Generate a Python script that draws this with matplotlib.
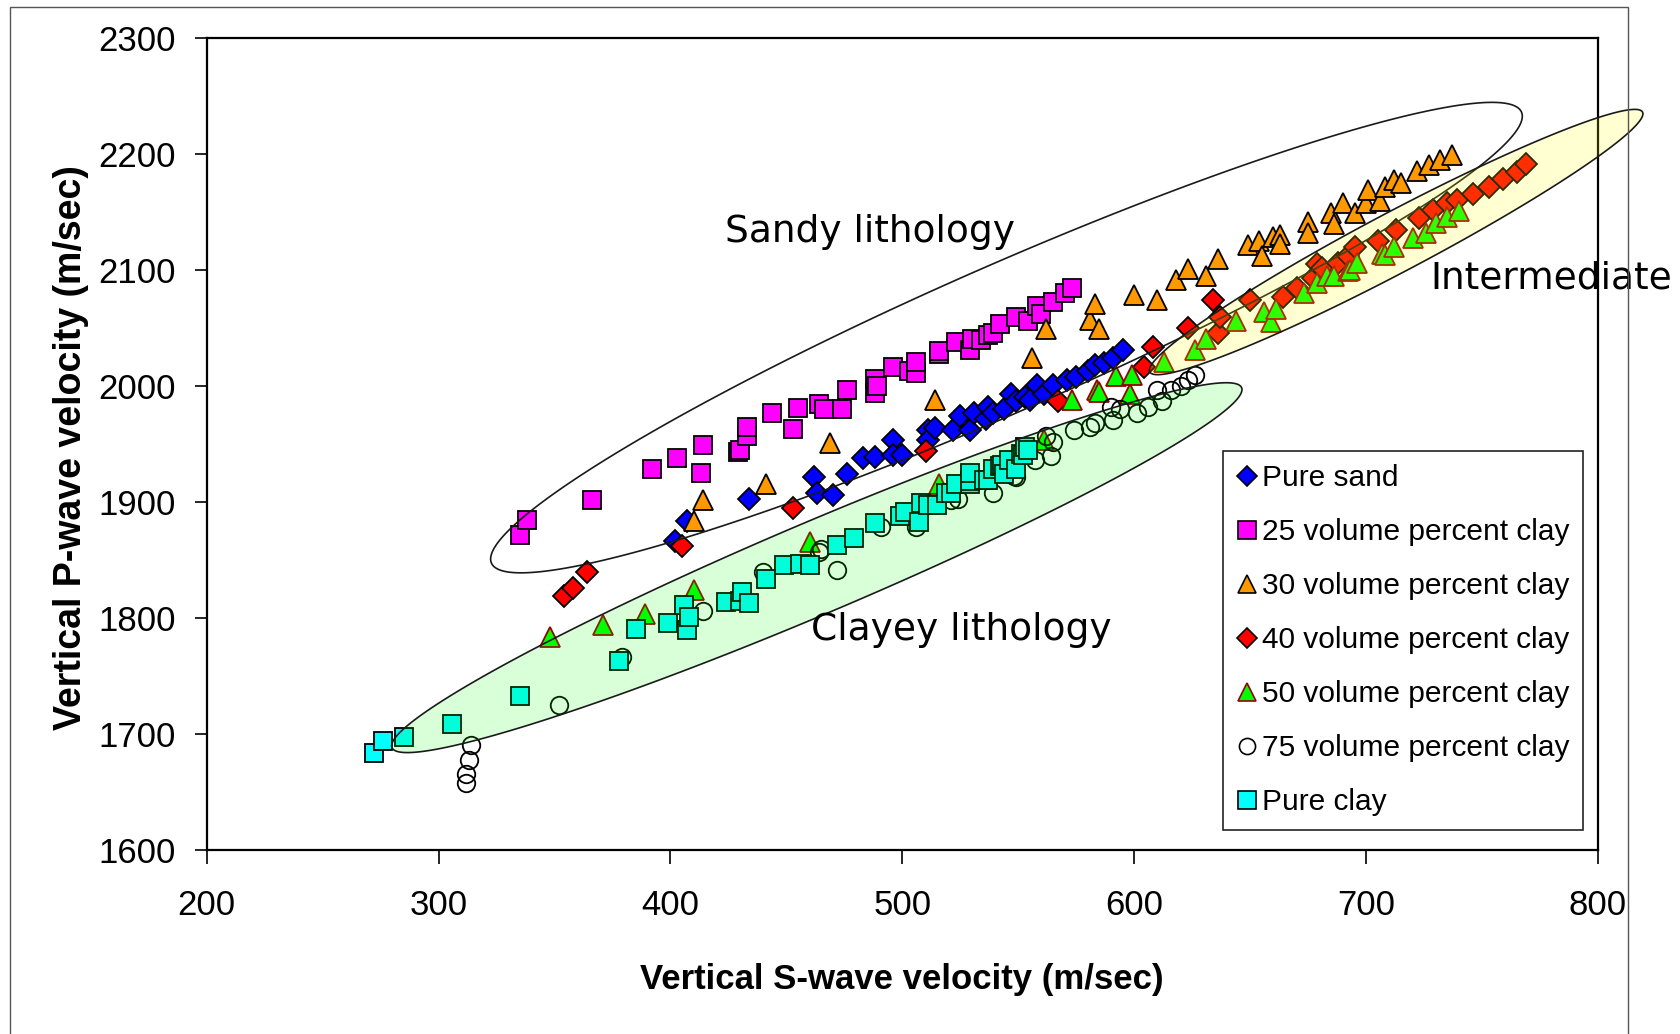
import numpy as np
import matplotlib
matplotlib.use('Agg')
import matplotlib.pyplot as plt
from matplotlib.lines import Line2D
from matplotlib.patches import Polygon, Rectangle

# vertical S-wave / P-wave velocities (m/sec)
sand_vs = [402, 407, 434, 462, 463, 470, 476, 483, 488, 496, 496, 500, 511, 511, 514, 522, 525,
           529, 531, 536, 537, 539, 544, 547, 549, 553, 555, 558, 561, 565, 571, 575, 580, 583,
           587, 591, 595]
sand_vp = [1867, 1884, 1903, 1922, 1908, 1906, 1924, 1938, 1939, 1954, 1941, 1941, 1962, 1954,
           1964, 1962, 1974, 1962, 1977, 1972, 1982, 1977, 1980, 1993, 1987, 1991, 1988, 2001,
           1993, 2001, 2005, 2008, 2013, 2018, 2020, 2024, 2031]

clay25_vs = [335, 338, 366, 392, 403, 413, 414, 429, 430, 433, 433, 444, 453, 455, 464, 466, 474,
             476, 488, 488, 489, 496, 503, 506, 506, 516, 516, 523, 529, 530, 534, 537, 539, 542,
             549, 554, 558, 560, 565, 570, 573]
clay25_vp = [1872, 1885, 1902, 1929, 1938, 1925, 1949, 1943, 1945, 1957, 1965, 1977, 1963, 1981,
             1985, 1980, 1980, 1997, 1994, 2006, 2000, 2017, 2013, 2011, 2021, 2028, 2030, 2038,
             2031, 2041, 2040, 2044, 2046, 2054, 2060, 2056, 2069, 2062, 2073, 2080, 2085]

clay30_vs = [410, 414, 441, 469, 514, 556, 562, 581, 583, 585, 600, 610, 618, 623, 631, 636, 649,
             654, 655, 660, 663, 663, 675, 675, 685, 686, 690, 695, 700, 701, 706, 708, 712, 715,
             722, 727, 732, 737]
clay30_vp = [1884, 1902, 1916, 1951, 1988, 2024, 2049, 2057, 2071, 2049, 2079, 2074, 2092, 2101,
             2095, 2110, 2122, 2125, 2112, 2129, 2130, 2123, 2142, 2132, 2149, 2140, 2158, 2149,
             2158, 2169, 2160, 2172, 2178, 2175, 2186, 2191, 2195, 2199]

clay40_vs = [354, 358, 364, 405, 453, 510, 567, 604, 608, 623, 634, 636, 637, 650, 664, 670, 677,
             679, 681, 688, 692, 695, 705, 713, 723, 729, 735, 739, 746, 753, 759, 765, 769]
clay40_vp = [1819, 1826, 1840, 1862, 1895, 1944, 1987, 2017, 2034, 2050, 2074, 2046, 2060, 2074,
             2077, 2085, 2093, 2105, 2102, 2106, 2112, 2120, 2125, 2135, 2145, 2152, 2158, 2161,
             2166, 2172, 2179, 2185, 2192]

clay50_vs = [348, 371, 389, 410, 460, 516, 561, 573, 584, 585, 592, 598, 599, 613, 626, 631, 644,
             656, 659, 661, 673, 679, 683, 686, 692, 693, 696, 707, 708, 712, 720, 726, 730, 735,
             740]
clay50_vp = [1784, 1794, 1804, 1824, 1866, 1916, 1954, 1988, 1997, 1995, 2009, 1993, 2010, 2021,
             2031, 2041, 2056, 2064, 2055, 2067, 2080, 2089, 2095, 2095, 2099, 2100, 2106, 2114,
             2113, 2120, 2128, 2132, 2141, 2146, 2151]

clay75_vs = [312, 312, 313, 314, 352, 379, 414, 440, 464, 465, 472, 491, 506, 521, 524, 539, 548,
             549, 557, 564, 565, 562, 574, 581, 583, 590, 591, 594, 601, 606, 610, 612, 616, 620,
             623, 626]
clay75_vp = [1658, 1666, 1678, 1691, 1725, 1767, 1806, 1840, 1857, 1860, 1842, 1879, 1879, 1902,
             1903, 1908, 1923, 1922, 1936, 1940, 1952, 1957, 1962, 1965, 1968, 1982, 1971, 1980,
             1977, 1982, 1997, 1987, 1997, 2000, 2005, 2010]

clay_vs = [272, 276, 285, 306, 335, 378, 385, 399, 406, 407, 408, 424, 430, 431, 434, 441, 449,
           456, 460, 472, 479, 488, 499, 501, 507, 508, 511, 515, 519, 521, 523, 529, 529, 529,
           535, 537, 539, 542, 543, 544, 546, 549, 551, 552, 553, 554]
clay_vp = [1684, 1694, 1698, 1709, 1733, 1763, 1791, 1796, 1811, 1790, 1801, 1814, 1815, 1823,
           1813, 1834, 1846, 1847, 1846, 1863, 1869, 1882, 1888, 1892, 1883, 1899, 1898, 1898,
           1908, 1908, 1916, 1916, 1918, 1925, 1919, 1919, 1929, 1931, 1932, 1924, 1936, 1929,
           1942, 1941, 1948, 1945]

labels = ['Pure sand', '25 volume percent clay', '30 volume percent clay',
          '40 volume percent clay', '50 volume percent clay', '75 volume percent clay',
          'Pure clay']

# marker, size, face, edge for each series
styles = [
    ('D', 10.8, '#0000FF', 'black'),
    ('s', 13.6, '#FF00FF', 'black'),
    ('^', 14.3, '#FF9900', 'black'),
    ('D', 10.8, '#FF0000', 'black'),
    ('^', 14.3, '#00FF00', '#990000'),
    ('o', 12.6, 'none', 'black'),
    ('s', 13.6, '#00FFFF', 'black'),
]


def lith_ellipse(ax, tip0, tip1, half_width, **kw):
    # ellipse between two tips given in data units, width in pixels
    p0, p1 = ax.transData.transform([tip0, tip1])
    c = (p0 + p1) / 2
    d = p1 - p0
    a = np.hypot(d[0], d[1]) / 2
    ang = np.arctan2(d[1], d[0])
    t = np.linspace(0, 2 * np.pi, 300)
    ex = a * np.cos(t)
    ey = half_width * np.sin(t)
    pts = np.column_stack([c[0] + ex * np.cos(ang) - ey * np.sin(ang),
                           c[1] + ex * np.sin(ang) + ey * np.cos(ang)])
    poly = Polygon(ax.transData.inverted().transform(pts), closed=True, **kw)
    ax.add_patch(poly)
    return poly


fig = plt.figure(figsize=(16.81, 10.34), dpi=100)
fig.add_artist(Rectangle((0.006, -0.05), 0.9625, 1.0432, transform=fig.transFigure,
                         fill=False, edgecolor='#555555', linewidth=1.0))

ax = fig.add_axes([0.12296, 0.17776, 0.82767, 0.78520])
ax.set_xlim(200, 800)
ax.set_ylim(1600, 2300)
ax.set_xticks(np.arange(200, 801, 100))
ax.set_yticks(np.arange(1600, 2301, 100))

all_vs = [sand_vs, clay25_vs, clay30_vs, clay40_vs, clay50_vs, clay75_vs, clay_vs]
all_vp = [sand_vp, clay25_vp, clay30_vp, clay40_vp, clay50_vp, clay75_vp, clay_vp]
handles = []
for vs, vp, lab, (mk, ms, fc, ec) in zip(all_vs, all_vp, labels, styles):
    ax.plot(vs, vp, linestyle='none', marker=mk, markersize=ms, markerfacecolor=fc,
            markeredgecolor=ec, markeredgewidth=1.3, zorder=2)
    handles.append(Line2D([], [], linestyle='none', marker=mk, markersize=ms * 0.92,
                          markerfacecolor='white' if fc == 'none' else fc,
                          markeredgecolor=ec, markeredgewidth=1.2, label=lab))

# lithology outlines
lith_ellipse(ax, (322.8, 1847.5), (767.0, 2236.4), 73, fill=False, edgecolor='#1a1a1a',
             linewidth=1.2, zorder=3, clip_on=False)
lith_ellipse(ax, (279.9, 1688.4), (646.3, 1998.8), 46, facecolor=(0, 1, 0, 0.15),
             edgecolor='#1a1a1a', linewidth=1.2, zorder=3, clip_on=False)
lith_ellipse(ax, (606.7, 2012.3), (819.2, 2236.4), 30, facecolor=(1, 1, 0, 0.18),
             edgecolor='#1a1a1a', linewidth=1.2, zorder=3, clip_on=False)

ax.text(423.4, 2124, 'Sandy lithology', fontsize=27, family='DejaVu Sans', va='baseline', zorder=4)
ax.text(460.7, 1781, 'Clayey lithology', fontsize=27, family='DejaVu Sans', va='baseline', zorder=4)
ax.text(727.6, 2084, 'Intermediate', fontsize=27, family='DejaVu Sans', va='baseline', zorder=4)

for s in ax.spines.values():
    s.set_linewidth(1.6)
ax.tick_params(axis='y', direction='out', length=9, width=1.2, pad=13)
ax.tick_params(axis='x', direction='out', length=10, width=1.2, pad=18)
for lab in ax.get_yticklabels():
    lab.set_family(['Liberation Sans', 'DejaVu Sans'])
    lab.set_fontsize(25)
for lab in ax.get_xticklabels():
    lab.set_family(['Liberation Sans', 'DejaVu Sans'])
    lab.set_fontsize(25)

fig.text(0.5367, 0.044, 'Vertical S-wave velocity (m/sec)', ha='center', va='baseline',
         fontsize=25, fontweight='bold', family=['Liberation Sans', 'DejaVu Sans'])
fig.text(0.0424, 0.567, 'Vertical P-wave velocity (m/sec)', ha='center', va='center',
         rotation=90, fontsize=27, fontweight='bold', family=['Liberation Sans', 'DejaVu Sans'])

leg = ax.legend(handles=handles, loc='upper left', bbox_to_anchor=(0.7275, 0.5638),
                bbox_transform=fig.transFigure, borderaxespad=0, fancybox=False,
                framealpha=1, edgecolor='#222222', prop={'family': 'Liberation Sans', 'size': 21.5},
                handlelength=0.7, handletextpad=0.15, labelspacing=0.87, borderpad=0.45)
leg.get_frame().set_linewidth(1.2)
leg.set_zorder(5)

fig.savefig('out.png', dpi=100)
